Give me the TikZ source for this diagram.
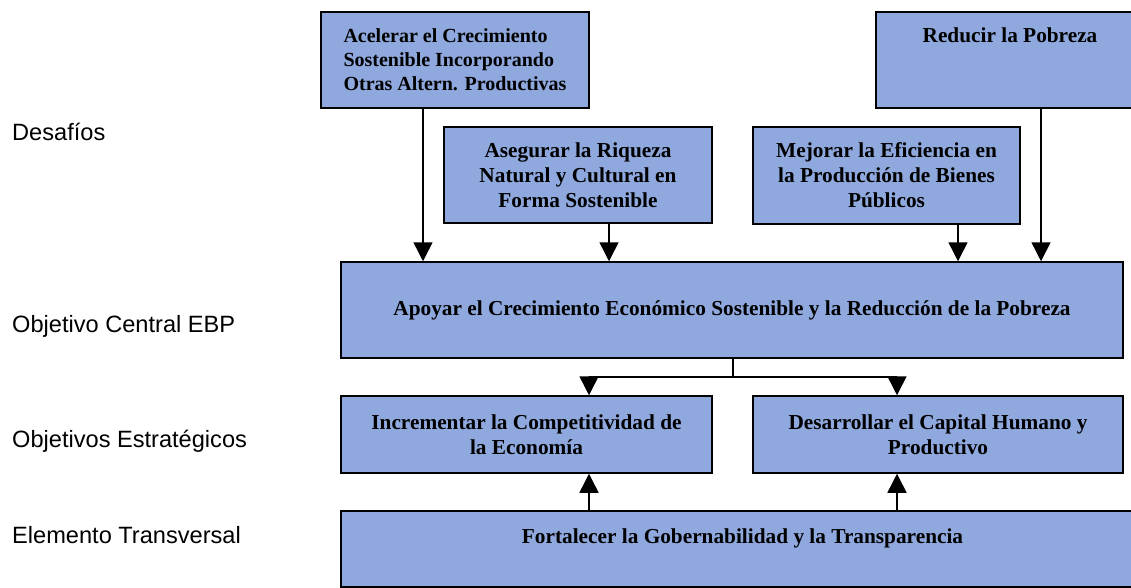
\documentclass[tikz,border=0pt]{standalone}
\usepackage{fontspec}
\setmainfont{Liberation Serif}
\newfontfamily\arialfont{Liberation Sans}
\usetikzlibrary{arrows.meta}
\definecolor{boxblue}{RGB}{143,168,222}
\tikzset{
  box/.style={draw=black, line width=1.5pt, fill=boxblue, inner sep=0pt,
    font=\fontsize{21.3}{25}\selectfont\bfseries, align=center},
  smallbox/.style={box, font=\fontsize{20}{24}\selectfont\bfseries},
  rowlabel/.style={anchor=base west, inner sep=0pt,
    font=\arialfont\fontsize{23.6}{28}\selectfont},
  conn/.style={line width=1.5pt, draw=black},
  arr/.style={conn, -{Triangle[width=19pt,length=19pt]}}
}
\begin{document}
\begin{tikzpicture}[x=1pt,y=-1pt]
\clip (0,0) rectangle (1131,588);
\fill[white] (0,0) rectangle (1131,588);

% row labels
\node[rowlabel] (l1) at (12,140.5) {Desafíos};
\node[rowlabel] (l2) at (12,332.5) {Objetivo Central EBP};
\node[rowlabel] (l3) at (12,447.5) {Objetivos Estratégicos};
\node[rowlabel] (l4) at (12,543.5) {Elemento Transversal};

% challenge boxes
\node[smallbox, minimum width=268pt, minimum height=96pt, align=left] (A) at (455,60)
  {Acelerar el Crecimiento\\Sostenible Incorporando\\Otras Altern. Productivas};
\node[box, minimum width=268pt, minimum height=96pt] (R) at (1010,60)
  {Reducir la Pobreza\\\mbox{}\\\mbox{}};
\node[box, minimum width=268pt, minimum height=96pt] (B) at (578,175)
  {Asegurar la Riqueza\\Natural y Cultural en\\Forma Sostenible};
\node[box, minimum width=267pt, minimum height=97pt] (M) at (886.5,175.5)
  {Mejorar la Eficiencia en\\la Producción de Bienes\\Públicos};

% central objective
\node[box, minimum width=782pt, minimum height=96pt] (C) at (732,310)
  {Apoyar el Crecimiento Económico Sostenible y la Reducción de la Pobreza};

% strategic objectives
\node[box, minimum width=371pt, minimum height=77pt] (S1) at (526.5,434.5)
  {Incrementar la Competitividad de\\la Economía};
\node[box, minimum width=370pt, minimum height=77pt] (S2) at (938,434.5)
  {Desarrollar el Capital Humano y\\Productivo};

% transversal element
\node[box, minimum width=803pt, minimum height=76pt] (F) at (742.5,549)
  {Fortalecer la Gobernabilidad y la Transparencia\\\mbox{}};

% x positions of connectors
\coordinate (xA) at (423,0);
\coordinate (xB) at (609,0);
\coordinate (xM) at (958,0);
\coordinate (xR) at (1041,0);
\coordinate (xL) at (589,0);
\coordinate (xS) at (897,0);
\coordinate (J) at (733,377);

\draw[arr] (A.south -| xA) -- (C.north -| xA);
\draw[arr] (B.south -| xB) -- (C.north -| xB);
\draw[arr] (M.south -| xM) -- (C.north -| xM);
\draw[arr] (R.south -| xR) -- (C.north -| xR);

\draw[conn] (C.south -| J) -- (J);
\draw[arr] (J) -| (S1.north -| xL);
\draw[arr] (J) -| (S2.north -| xS);

\draw[arr] (F.north -| xL) -- (S1.south -| xL);
\draw[arr] (F.north -| xS) -- (S2.south -| xS);
\end{tikzpicture}
\end{document}
